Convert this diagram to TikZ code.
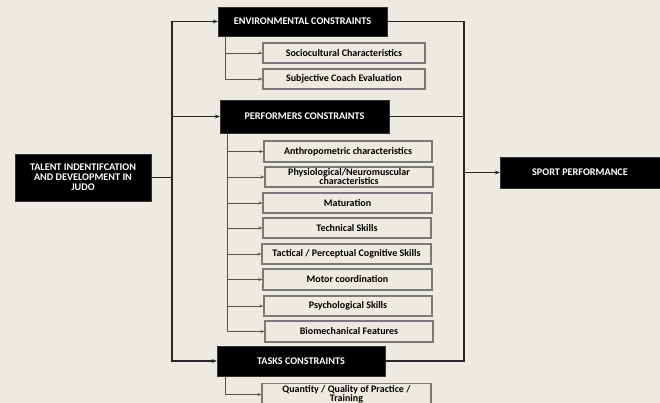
\documentclass[tikz,border=0pt]{standalone}
\usepackage{fontspec}
\setmainfont{Carlito}
\usepackage{tikz}
\usetikzlibrary{arrows.meta, positioning, calc}
\definecolor{paperbg}{HTML}{EDEBE1}
\definecolor{boxgray}{HTML}{7A7A7A}
\definecolor{linegray}{HTML}{555555}
\tikzset{
    headbox/.style={rectangle, draw=black!80, fill=black, text=white, align=center, font=\fontsize{10.2}{10}\selectfont\bfseries, inner sep=1pt},
    itembox/.style={rectangle, draw=boxgray, line width=1.1pt, fill=paperbg, align=center, font=\fontsize{10}{9}\selectfont\bfseries, minimum height=20pt, inner sep=0.5pt},
    mainline/.style={line width=1.5pt, draw=black!85},
    mainarrow/.style={mainline, -{Stealth[length=5pt, width=4pt]}},
    subarrow/.style={-{Stealth[length=4pt, width=3pt]}, line width=0.7pt, draw=linegray}
}
\begin{document}
\begin{tikzpicture}[x=1pt, y=-1pt]
        \fill[paperbg] (0,0) rectangle (660,403);
        \useasboundingbox (0,0) rectangle (660,403);

        % main blocks
        \node[headbox, minimum width=136pt, minimum height=47pt] (talent) at (83,177.5) {TALENT INDENTIFCATION\\AND DEVELOPMENT IN\\JUDO};
        \node[headbox, minimum width=169pt, minimum height=29pt] (env) at (302.5,21.5) {ENVIRONMENTAL CONSTRAINTS};
        \node[headbox, minimum width=169pt, minimum height=33pt] (perf) at (304.5,116.5) {PERFORMERS CONSTRAINTS};
        \node[headbox, minimum width=168pt, minimum height=30pt] (tasks) at (301,361) {TASKS CONSTRAINTS};
        \node[headbox, minimum width=160pt, minimum height=31pt] (sport) at (580,172.5) {SPORT PERFORMANCE};

        % environmental items
        \node[itembox, minimum width=162pt] (socio) at (344,53) {Sociocultural Characteristics};
        \node[itembox, minimum width=162pt] (coach) at (344,79) {Subjective Coach Evaluation};

        % performers items
        \node[itembox, minimum width=168pt, minimum height=21pt] (anthro) at (348,151.5) {Anthropometric characteristics};
        \node[itembox, minimum width=168pt] (physio) at (349,177) {Physiological/Neuromuscular\\characteristics};
        \node[itembox, minimum width=169pt] (matur) at (347.5,203) {Maturation};
        \node[itembox, minimum width=168pt] (techn) at (347,228) {Technical Skills};
        \node[itembox, minimum width=169pt] (tact) at (346.5,254) {Tactical / Perceptual Cognitive Skills};
        \node[itembox, minimum width=169pt, minimum height=21pt] (motor) at (347.5,279.5) {Motor coordination};
        \node[itembox, minimum width=168pt] (psych) at (348,306) {Psychological Skills};
        \node[itembox, minimum width=168pt, minimum height=21pt] (biomech) at (349,331.5) {Biomechanical Features};

        % tasks item
        \node[itembox, minimum width=169pt, minimum height=22pt, anchor=north] (practice) at (346.5,383) {Quantity / Quality of Practice /\\Training};

        % buses
        \coordinate (lbus) at (172,177.5);
        \coordinate (rbus) at (464,172.5);

        \draw[mainline] (talent.east) -- (lbus);
        \draw[mainarrow] (lbus) |- (env.west);
        \draw[mainarrow] (lbus) |- (perf.west);
        \draw[mainarrow] (lbus) |- (tasks.west);
        \draw[mainline] (env.east) -| (rbus);
        \draw[mainline] (perf.east) -| (rbus);
        \draw[mainline] (tasks.east) -| (rbus);
        \draw[mainarrow] (rbus) -- (sport.west);

        \draw[subarrow] ($(env.south west)+(8,0)$) |- (socio.west);
        \draw[subarrow] ($(env.south west)+(8,0)$) |- (coach.west);
        \foreach \item in {anthro, physio, matur, techn, tact, motor, psych, biomech}
            \draw[subarrow] ($(perf.south west)+(8,0)$) |- (\item.west);
        \draw[subarrow] ($(tasks.south west)+(9,0)$) |- (practice.west);
    \end{tikzpicture}
\end{document}
